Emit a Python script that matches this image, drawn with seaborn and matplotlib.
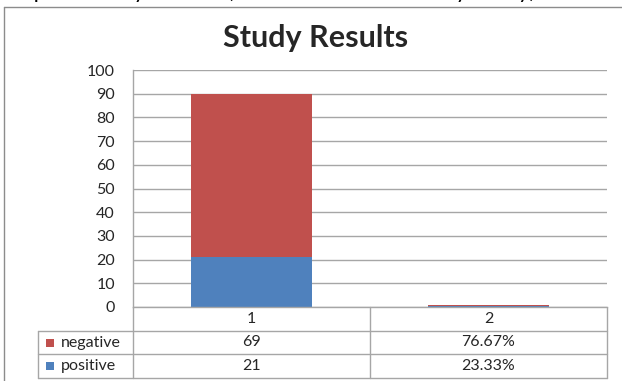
import matplotlib
matplotlib.use("Agg")
import matplotlib.pyplot as plt
from matplotlib.lines import Line2D
from matplotlib.patches import Rectangle
import seaborn as sns
import pandas as pd

# Data
categories = ["1", "2"]
negative = [69, 0.7667]
positive = [21, 0.2333]
value_formats = ["{:g}", "{:.2%}"]
series_names = ["negative", "positive"]
title = "Study Results"
caption = "Graph 1: Study Results (Number and Percent by Study)"

RED = "#C0504D"
BLUE = "#4F81BD"
GRID = "#a6a6a6"
BORDER = "#8c8c8c"
SMALL = 11.5

sns.set_style("white")
plt.rcParams["font.family"] = ["Lato", "DejaVu Sans"]

W, H = 622, 381
fig = plt.figure(figsize=(W / 100, H / 100), dpi=100)


def fx(x):
    return x / W


def fy(y):
    return 1 - y / H


def hline(y, x1, x2, color=GRID):
    fig.add_artist(Line2D([fx(x1), fx(x2)], [fy(y), fy(y)],
                          transform=fig.transFigure, color=color, lw=1))


def vline(x, y1, y2, color=GRID):
    fig.add_artist(Line2D([fx(x), fx(x)], [fy(y1), fy(y2)],
                          transform=fig.transFigure, color=color, lw=1))


# caption line above the chart frame (runs off the top edge of the page)
fig.text(fx(-2), fy(-2), caption, fontsize=16, va="baseline", ha="left",
         color="black")

# chart frame
hline(7, 4, W + 2, BORDER)
vline(4, 7, H + 2, BORDER)

fig.text(fx(316), fy(38), title, fontsize=22, fontweight="bold",
         ha="center", va="center")

# plot area
left, right, top, bottom = 133, 607, 70, 307
ax = fig.add_axes([fx(left), fy(bottom), (right - left) / W, (bottom - top) / H])

totals = [n + p for n, p in zip(negative, positive)]
df = pd.DataFrame({"cat": categories, "total": totals, "positive": positive})
sns.barplot(data=df, x="cat", y="total", order=categories, color=RED,
            saturation=1, width=0.51, ax=ax)
sns.barplot(data=df, x="cat", y="positive", order=categories, color=BLUE,
            saturation=1, width=0.51, ax=ax)
for patch in ax.patches:
    patch.set_edgecolor("none")

ax.set_xlim(-0.5, 1.5)
ax.set_ylim(0, 100)
ax.set_yticks(range(0, 101, 10))
ax.yaxis.grid(True, color=GRID, lw=1)
ax.set_axisbelow(True)
ax.set_xlabel("")
ax.set_ylabel("")
ax.set_xticklabels([])
ax.tick_params(axis="x", length=0)
ax.tick_params(axis="y", length=0, pad=13, labelsize=SMALL)
for side in ["top", "right"]:
    ax.spines[side].set_visible(False)
for side in ["left", "bottom"]:
    ax.spines[side].set_color(GRID)
    ax.spines[side].set_linewidth(1)

# data table under the plot
rows = [307, 331, 354, 378]
col_x = [left, (left + right) / 2, right]
label_left = 38
for y in rows[1:]:
    hline(y, label_left, right)
vline(label_left, rows[1], rows[-1])
for x in col_x:
    vline(x, rows[0], rows[-1])

cat_centers = [(col_x[0] + col_x[1]) / 2, (col_x[1] + col_x[2]) / 2]
for cx, cat in zip(cat_centers, categories):
    fig.text(fx(cx), fy((rows[0] + rows[1]) / 2), cat, fontsize=SMALL,
             ha="center", va="center")

table_rows = [(series_names[0], negative, RED), (series_names[1], positive, BLUE)]
for i, (name, vals, col) in enumerate(table_rows):
    yc = (rows[i + 1] + rows[i + 2]) / 2
    fig.add_artist(Rectangle((fx(46), fy(yc + 4)), 8 / W, 8 / H,
                             transform=fig.transFigure, facecolor=col,
                             edgecolor="none"))
    fig.text(fx(61), fy(yc), name, fontsize=SMALL, ha="left", va="center")
    for cx, v, f in zip(cat_centers, vals, value_formats):
        fig.text(fx(cx), fy(yc), f.format(v), fontsize=SMALL,
                 ha="center", va="center")

fig.savefig("out.png", dpi=100)
